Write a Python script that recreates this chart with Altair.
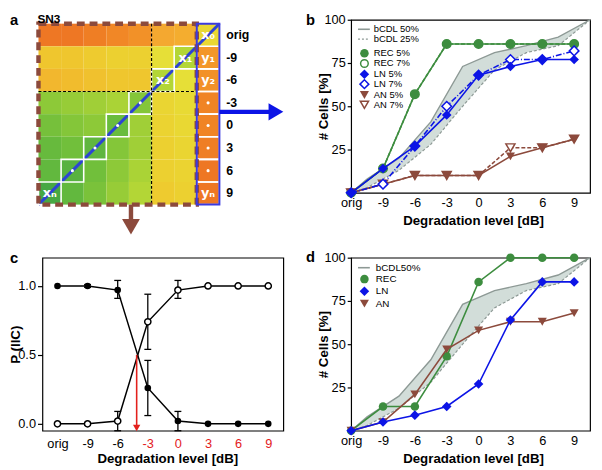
import json
import altair as alt
import pandas as pd

# ---------------- shared categories ----------------
levels = ["orig", "-9", "-6", "-3", "0", "3", "6", "9"]
xpos = list(range(len(levels)))

# ---------------- panel a : similarity matrix ----------------
# rows top->bottom: orig,-9,-6,-3,0,3,6,9 ; cols left->right: 9,6,3,0,-3,-6,-9, orig(strip)
heat_vals = [
    [0.90, 0.90, 0.88, 0.85, 0.82, 0.74, 0.72, 0.55],
    [0.62, 0.62, 0.60, 0.58, 0.58, 0.52, 0.40, 0.80],
    [0.68, 0.66, 0.64, 0.62, 0.62, 0.40, 0.52, 0.82],
    [0.32, 0.34, 0.36, 0.38, 0.30, 0.56, 0.54, 0.86],
    [0.27, 0.30, 0.32, 0.24, 0.36, 0.57, 0.55, 0.86],
    [0.23, 0.26, 0.20, 0.30, 0.36, 0.58, 0.56, 0.88],
    [0.21, 0.17, 0.26, 0.32, 0.38, 0.58, 0.57, 0.90],
    [0.10, 0.21, 0.28, 0.34, 0.40, 0.60, 0.58, 0.90],
]
heat_stops = [0, 0.25, 0.5, 0.75, 1]
heat_colors = ["#2f9a46", "#6cbd3c", "#e4e43a", "#f4a631", "#e85425"]
diag_label_rows = [0, 1, 2, 7]
diag_labels = ["x\u2080", "x\u2081", "x\u2082", "x\u2099"]
strip_label_rows = [1, 2, 7]
strip_labels = ["y\u2081", "y\u2082", "y\u2099"]
dot_rows = [3, 4, 5, 6]
threshold_col = 5     # boundary between -3 and -6 columns
threshold_row = 3     # boundary between -6 and -3 rows

# ---------------- panel b ----------------
rec5 = [0, 14, 57, 86, 86, 86, 86, 86]
rec7 = [0, 14, 57, 86, 86, 86, 86, 86]
ln5 = [0, 14, 27, 45, 68, 73, 77, 77]
ln7 = [0, 5, 27, 50, 68, 77, 77, 82]
an5 = [0, 5, 10, 10, 10, 21, 26, 31]
an7 = [0, 5, 10, 10, 10, 26, 26, 31]

band_x = [0, 0.5, 1.5, 2.5, 3.5, 4.5, 5.5, 6.5, 7.5]
band_hi = [0, 8, 20, 41, 73, 81, 85, 90, 100]
band_lo = [0, 3, 13, 28, 50, 71, 81, 85, 100]

# ---------------- panel c ----------------
c_filled = [1.0, 1.0, 0.97, 0.26, 0.02, 0.0, 0.0, 0.0]
c_open = [0.0, 0.0, 0.02, 0.74, 0.97, 1.0, 1.0, 1.0]
c_err_x = [1, 2, 3, 4]
c_filled_lo = [0.99, 0.91, 0.06, -0.05]
c_filled_hi = [1.01, 1.04, 0.46, 0.09]
c_open_lo = [-0.01, -0.05, 0.54, 0.91]
c_open_hi = [0.01, 0.09, 0.94, 1.04]
cross_x = [2.63]
cross_top = [0.5]
cross_bottom = [-0.03]

# ---------------- panel d ----------------
d_rec = [0, 14, 14, 43, 86, 100, 100, 100]
d_ln = [0, 5, 9, 14, 27, 64, 86, 86]
d_an = [0, 5, 21, 47, 58, 63, 63, 68]

# ---------------- styling ----------------
GREEN = "#3d8d3f"
BLUE = "#0c14e6"
BROWN = "#8c4a3c"
RED = "#e3201c"
BAND_FILL = "#d2ddd9"
BAND_LINE = "#8d9995"
FONT = "Liberation Sans"

W1, W2, H = 245, 243, 176
ONE = pd.DataFrame({"k": [0]})


def txt(x, y, s, size=10, weight="normal", color="black", align="left", baseline="middle", font=FONT):
    return alt.Chart(ONE).mark_text(text=s, fontSize=size, fontWeight=weight, color=color,
                                    align=align, baseline=baseline, font=font).encode(
        x=alt.value(x), y=alt.value(y))


def leg_line(x0, x1, y, color, dash=None, width=1.5):
    kw = {"strokeDash": dash} if dash else {}
    return alt.Chart(ONE).mark_rule(color=color, strokeWidth=width, **kw).encode(
        x=alt.value(x0), x2=alt.value(x1), y=alt.value(y))


def pt_mark(chart, shape, color, filled, size):
    if filled:
        return chart.mark_point(shape=shape, filled=True, color=color, size=size, opacity=1)
    return chart.mark_point(shape=shape, filled=True, fill="white", stroke=color,
                            strokeWidth=1.5, size=size, opacity=1)


def leg_pt(x, y, shape, color, filled, size):
    return pt_mark(alt.Chart(ONE), shape, color, filled, size).encode(x=alt.value(x), y=alt.value(y))


# ======================= panel a =======================
PX = 23.0
n = len(levels)
ax_sc = alt.Scale(domain=[4 / PX, 4 / PX + W1 / PX], nice=False, zero=False)
ay_sc = alt.Scale(domain=[-4 / PX, -4 / PX + H / PX], nice=False, zero=False, reverse=True)


def AX(f):
    return alt.X(f, type="quantitative", scale=ax_sc, axis=None)


def AY(f):
    return alt.Y(f, type="quantitative", scale=ay_sc, axis=None)


cells = []
for r, row in enumerate(heat_vals):
    for c, v in enumerate(row):
        cells.append({"c0": c, "c1": c + 1, "r0": r, "r1": r + 1, "v": v})
heat_df = pd.DataFrame(cells)

heat = alt.Chart(heat_df).mark_rect(strokeWidth=0).encode(
    x=AX("c0"), x2="c1", y=AY("r0"), y2="r1",
    color=alt.Color("v:Q", scale=alt.Scale(domain=heat_stops, range=heat_colors), legend=None))

diag_df = pd.DataFrame({"x": [0, n], "y": [n, 0]})
diag = alt.Chart(diag_df).mark_line(color="#2c44d4", strokeWidth=3).encode(x=AX("x"), y=AY("y"))

boxes = []
for r in range(1, n):
    boxes.append({"c0": n - 1 - r, "c1": n - r, "r0": r, "r1": r + 1})
    boxes.append({"c0": n - 1, "c1": n, "r0": r, "r1": r + 1})
box_df = pd.DataFrame(boxes)
wboxes = alt.Chart(box_df).mark_rect(filled=False, stroke="white", strokeWidth=1.6).encode(
    x=AX("c0"), x2="c1", y=AY("r0"), y2="r1")

lab_rows = []
for r, s in zip(diag_label_rows, diag_labels):
    lab_rows.append({"x": n - 1 - r + 0.5, "y": r + 0.5, "t": s})
for r, s in zip(strip_label_rows, strip_labels):
    lab_rows.append({"x": n - 0.5, "y": r + 0.5, "t": s})
lab_df = pd.DataFrame(lab_rows)
cell_labels = alt.Chart(lab_df).mark_text(color="white", fontSize=13, fontWeight="bold",
                                          font="DejaVu Sans").encode(x=AX("x"), y=AY("y"), text="t:N")

dots_rows = []
for r in dot_rows:
    dots_rows.append({"x": n - 1 - r + 0.5, "y": r + 0.5})
    dots_rows.append({"x": n - 0.5, "y": r + 0.5})
dots = alt.Chart(pd.DataFrame(dots_rows)).mark_point(filled=True, color="white", size=10, opacity=1).encode(
    x=AX("x"), y=AY("y"))

vdash = alt.Chart(pd.DataFrame({"x": [threshold_col], "y": [0], "y2": [n]})).mark_rule(
    color="black", strokeWidth=1.2, strokeDash=[3, 2]).encode(x=AX("x"), y=AY("y"), y2="y2")
hdash = alt.Chart(pd.DataFrame({"x": [0], "x2": [n - 1], "y": [threshold_row]})).mark_rule(
    color="black", strokeWidth=1.2, strokeDash=[3, 2]).encode(x=AX("x"), x2="x2", y=AY("y"))

brown_border = alt.Chart(pd.DataFrame({"c0": [0], "c1": [n - 1], "r0": [0], "r1": [n]})).mark_rect(
    filled=False, stroke=BROWN, strokeWidth=4.5, strokeDash=[8, 5]).encode(
    x=AX("c0"), x2="c1", y=AY("r0"), y2="r1")
blue_border = alt.Chart(pd.DataFrame({"c0": [n - 1], "c1": [n], "r0": [0], "r1": [n]})).mark_rect(
    filled=False, stroke="#3a3ae0", strokeWidth=2).encode(
    x=AX("c0"), x2="c1", y=AY("r0"), y2="r1")

row_lab_df = pd.DataFrame({"x": [n + 0.3] * n, "y": [r + 0.5 for r in range(n)], "t": levels})
row_labels = alt.Chart(row_lab_df).mark_text(align="left", baseline="middle", fontSize=12.5,
                                             fontWeight="bold", font=FONT).encode(
    x=AX("x"), y=AY("y"), text="t:N")

# arrows out of the matrix
blue_shaft = alt.Chart(pd.DataFrame({"x": [n], "x2": [10.2], "y": [3.9]})).mark_rule(
    color=BLUE, strokeWidth=4.5).encode(x=AX("x"), x2="x2", y=AY("y"))
blue_head = alt.Chart(pd.DataFrame({"x": [10.5], "y": [3.9]})).mark_point(
    shape="triangle-right", filled=True, color=BLUE, size=300, opacity=1).encode(x=AX("x"), y=AY("y"))
brown_shaft = alt.Chart(pd.DataFrame({"x": [4.09], "y": [n], "y2": [n + 0.7]})).mark_rule(
    color=BROWN, strokeWidth=4.5).encode(x=AX("x"), y=AY("y"), y2="y2")
brown_head = alt.Chart(pd.DataFrame({"x": [4.09], "y": [n + 0.98]})).mark_point(
    shape="triangle-down", filled=True, color=BROWN, size=330, opacity=1).encode(x=AX("x"), y=AY("y"))

pa = alt.layer(
    heat, diag, wboxes, dots, cell_labels, vdash, hdash, brown_border, blue_border, row_labels,
    blue_shaft, blue_head, brown_shaft, brown_head,
    txt(-33, 5, "a", size=15, weight="bold", baseline="alphabetic"),
    txt(-5, 3, "SN3", size=12, weight="bold", baseline="alphabetic"),
).properties(width=W1, height=H, view=alt.ViewBackground(stroke="transparent"))

# ======================= panels b / d =======================
label_expr = json.dumps(levels) + "[datum.value]"
xs_bd = alt.Scale(domain=[0, 7.5], nice=False, zero=False)
ys_bd = alt.Scale(domain=[0, 100], nice=False, zero=False)
xaxis_bd = alt.Axis(values=xpos, labelExpr=label_expr, ticks=False, labelPadding=4,
                    title="Degradation level [dB]", titleX=124, titleY=28,
                    titleBaseline="middle", titleAlign="center")
yaxis_bd = alt.Axis(values=[25, 50, 75, 100], title="# Cells [%]", tickSize=4, labelPadding=2,
                    titleX=-28, titleY=H / 2, titleAngle=270, titleAlign="center",
                    titleBaseline="middle")


def XB(f):
    return alt.X(f, type="quantitative", scale=xs_bd, axis=xaxis_bd)


def YB(f):
    return alt.Y(f, type="quantitative", scale=ys_bd, axis=yaxis_bd)


def series(vals, color, shape, filled, dash, size):
    df = pd.DataFrame({"x": xpos, "y": vals})
    base = alt.Chart(df)
    kw = {"strokeDash": dash} if dash else {}
    line = base.mark_line(color=color, strokeWidth=1.6, **kw).encode(x=XB("x"), y=YB("y"))
    pts = pt_mark(base, shape, color, filled, size).encode(x=XB("x"), y=YB("y"))
    return [line, pts]


band_df = pd.DataFrame({"x": band_x, "y": band_hi, "y2": band_lo})


def band_layers():
    area = alt.Chart(band_df).mark_area(color=BAND_FILL, opacity=1).encode(x=XB("x"), y=YB("y"), y2="y2")
    hi = alt.Chart(band_df).mark_line(color=BAND_LINE, strokeWidth=1.4).encode(x=XB("x"), y=YB("y"))
    lo = alt.Chart(band_df).mark_line(color=BAND_LINE, strokeWidth=1.2, strokeDash=[3, 2]).encode(
        x=XB("x"), y=YB("y2"))
    return [area, hi, lo]


SZ_C, SZ_D, SZ_T = 75, 95, 85

b_layers = band_layers()
b_layers += series(rec7, GREEN, "circle", False, [4, 2], SZ_C)
b_layers += series(rec5, GREEN, "circle", True, None, SZ_C)
b_layers += series(an7, BROWN, "triangle-down", False, [4, 2], SZ_T)
b_layers += series(an5, BROWN, "triangle-down", True, None, SZ_T)
b_layers += series(ln7, BLUE, "diamond", False, [6, 2, 1, 2], SZ_D)
b_layers += series(ln5, BLUE, "diamond", True, None, SZ_D)

# legend b
LX0, LX1, LSX, LTX = 7, 19, 13.5, 23
b_leg_y = [9.7, 19.7, 34, 44.5, 55.5, 65.5, 76.5, 86.5]
b_leg_text = ["bCDL 50%", "bCDL 25%", "REC 5%", "REC 7%", "LN 5%", "LN 7%", "AN 5%", "AN 7%"]
b_layers += [
    leg_line(LX0, LX1, b_leg_y[0], BAND_LINE, width=1.6),
    leg_line(LX0, LX1, b_leg_y[1], BAND_LINE, dash=[2, 2], width=1.4),
    leg_pt(LSX, b_leg_y[2], "circle", GREEN, True, SZ_C),
    leg_pt(LSX, b_leg_y[3], "circle", GREEN, False, SZ_C - 15),
    leg_pt(LSX, b_leg_y[4], "diamond", BLUE, True, SZ_D),
    leg_pt(LSX, b_leg_y[5], "diamond", BLUE, False, SZ_D - 15),
    leg_pt(LSX, b_leg_y[6], "triangle-down", BROWN, True, SZ_T),
    leg_pt(LSX, b_leg_y[7], "triangle-down", BROWN, False, SZ_T - 15),
]
for yy, s in zip(b_leg_y, b_leg_text):
    b_layers.append(txt(LTX, yy, s, size=9.6))
b_layers.append(txt(-46, 5, "b", size=15, weight="bold", baseline="alphabetic"))
pb = alt.layer(*b_layers).properties(width=W2, height=H)

d_layers = band_layers()
d_layers += series(d_rec, GREEN, "circle", True, None, SZ_C)
d_layers += series(d_an, BROWN, "triangle-down", True, None, SZ_T)
d_layers += series(d_ln, BLUE, "diamond", True, None, SZ_D)
d_leg_y = [10.2, 21.8, 34.2, 46.8]
d_leg_text = ["bCDL50%", "REC", "LN", "AN"]
d_layers += [
    leg_line(LX0, LX1, d_leg_y[0], BAND_LINE, width=1.6),
    leg_pt(LSX, d_leg_y[1], "circle", GREEN, True, SZ_C),
    leg_pt(LSX, d_leg_y[2], "diamond", BLUE, True, SZ_D),
    leg_pt(LSX, d_leg_y[3], "triangle-down", BROWN, True, SZ_T),
]
for yy, s in zip(d_leg_y, d_leg_text):
    d_layers.append(txt(25, yy, s, size=10))
d_layers.append(txt(-46, 4, "d", size=15, weight="bold", baseline="alphabetic"))
pd_ = alt.layer(*d_layers).properties(width=W2, height=H)

# ======================= panel c =======================
xs_c = alt.Scale(domain=[-0.5, 7.5], nice=False, zero=False)
ys_c = alt.Scale(domain=[-0.05, 1.205], nice=False, zero=False)
xaxis_c = alt.Axis(values=xpos, labelExpr=label_expr, ticks=False, labelPadding=7,
                   labelColor={"expr": "datum.value >= 3 ? '%s' : 'black'" % RED},
                   title="Degradation level [dB]", titleX=127, titleY=28,
                   titleBaseline="middle", titleAlign="center")
yaxis_c = alt.Axis(values=[0, 0.5, 1.0], format=".1f", title="P (IIC)", tickSize=5, labelPadding=2,
                   titleX=-27, titleY=H / 2, titleAngle=270, titleAlign="center",
                   titleBaseline="middle")


def XC(f):
    return alt.X(f, type="quantitative", scale=xs_c, axis=xaxis_c)


def YC(f):
    return alt.Y(f, type="quantitative", scale=ys_c, axis=yaxis_c)


c_layers = []
for lo, hi in [(c_filled_lo, c_filled_hi), (c_open_lo, c_open_hi)]:
    edf = pd.DataFrame({"x": c_err_x, "y": lo, "y2": hi})
    c_layers.append(alt.Chart(edf).mark_rule(color="black", strokeWidth=1.3).encode(
        x=XC("x"), y=YC("y"), y2="y2"))
    c_layers.append(alt.Chart(edf).mark_tick(orient="horizontal", size=7, thickness=1.3, color="black",
                                             opacity=1).encode(x=XC("x"), y=YC("y")))
    c_layers.append(alt.Chart(edf).mark_tick(orient="horizontal", size=7, thickness=1.3, color="black",
                                             opacity=1).encode(x=XC("x"), y=YC("y2")))

for vals, filled in [(c_filled, True), (c_open, False)]:
    cdf = pd.DataFrame({"x": xpos, "y": vals})
    c_layers.append(alt.Chart(cdf).mark_line(color="black", strokeWidth=1.5).encode(x=XC("x"), y=YC("y")))
    c_layers.append(pt_mark(alt.Chart(cdf), "circle", "black", filled, 45 if filled else 40)
                    .encode(x=XC("x"), y=YC("y")))

arr_df = pd.DataFrame({"x": cross_x, "y": cross_top, "y2": cross_bottom})
c_layers.append(alt.Chart(arr_df).mark_rule(color=RED, strokeWidth=1.6).encode(
    x=XC("x"), y=YC("y"), y2="y2"))
c_layers.append(alt.Chart(arr_df).mark_point(shape="triangle-down", filled=True, color=RED, size=55,
                                             opacity=1).encode(x=XC("x"), y=YC("y2")))
c_layers.append(txt(-33, 5.5, "c", size=15, weight="bold", baseline="alphabetic"))
pc = alt.layer(*c_layers).properties(width=W1, height=H)

chart = alt.concat(
    pa, pb, pc, pd_, columns=2, spacing={"row": 66, "column": 69}, bounds="flush"
).properties(padding=0).configure(font=FONT).configure_view(
    stroke="black", strokeWidth=1.2
).configure_axis(
    labelFont=FONT, titleFont=FONT, labelFontSize=13, titleFontSize=13.5, titleFontWeight="bold",
    titleColor="black", labelColor="black", tickColor="black", tickWidth=1.2,
    domain=False, grid=False, labelFlush=False, labelOverlap=False
)

chart.save("out.html", embed_options={"renderer": "svg", "actions": False})
